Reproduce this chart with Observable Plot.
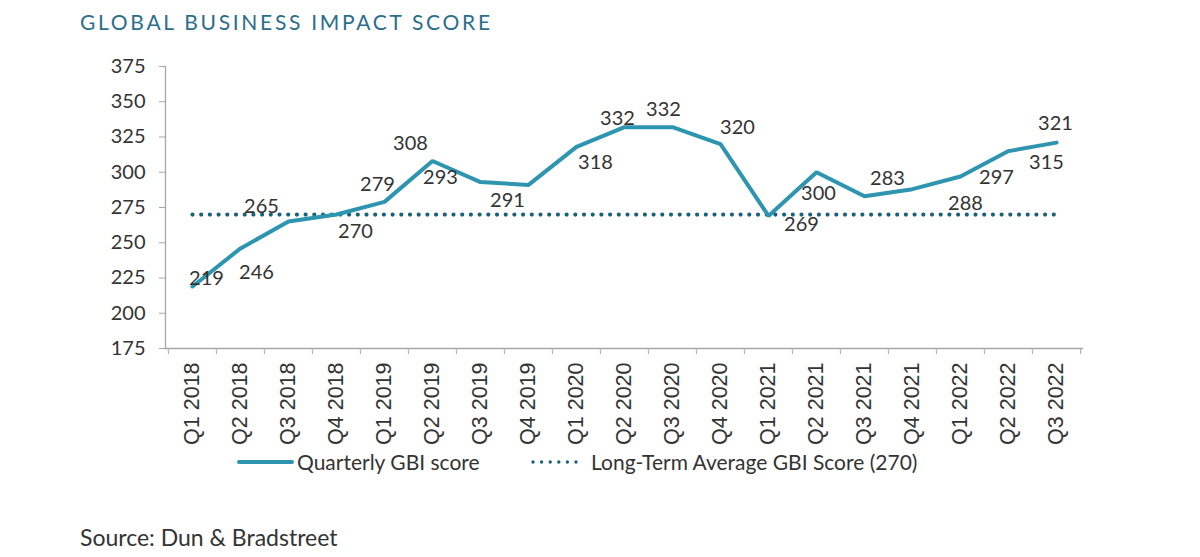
<!DOCTYPE html>
<html>
<head>
<meta charset="utf-8">
<script src="https://cdn.jsdelivr.net/npm/d3@7"></script>
<script src="https://cdn.jsdelivr.net/npm/@observablehq/plot@0.6"></script>
<style>
  html, body { margin: 0; padding: 0; background: #fff; }
  body { width: 1200px; height: 557px; position: relative; overflow: hidden; font-family: Lato, "Noto Sans", sans-serif; }
  #title { position: absolute; left: 80px; top: 9px; font-size: 21px; letter-spacing: 2.7px; color: #2a6e8c; line-height: 26px; white-space: nowrap; }
  #chart { position: absolute; left: 0; top: 40px; }
  #legend { position: absolute; left: 0; top: 449px; height: 26px; width: 1200px; font-size: 21px; color: #333; }
  .item { position: absolute; top: 0; height: 26px; line-height: 26px; white-space: nowrap; }
  .swatch { position: absolute; top: 13px; }
  #source { position: absolute; left: 80px; top: 523px; font-size: 23px; color: #333; line-height: 28px; white-space: nowrap; }
</style>
</head>
<body>
<div id="title">GLOBAL BUSINESS IMPACT SCORE</div>
<div id="chart"></div>
<div id="legend"></div>
<div id="source">Source: Dun &amp; Bradstreet</div>
<script>
// ---- data ----
const quarters = ["Q1 2018","Q2 2018","Q3 2018","Q4 2018","Q1 2019","Q2 2019","Q3 2019","Q4 2019",
  "Q1 2020","Q2 2020","Q3 2020","Q4 2020","Q1 2021","Q2 2021","Q3 2021","Q4 2021","Q1 2022","Q2 2022","Q3 2022"];
const gbiScores = [219,246,265,270,279,308,293,291,318,332,332,320,269,300,283,288,297,315,321];
const longTermAverage = 270;
const yTicks = [175,200,225,250,275,300,325,350,375];
const seriesNames = ["Quarterly GBI score", "Long-Term Average GBI Score (270)"];

// ---- label layout (pixel offsets of each data label from its point) ----
const labelOffsets = [[14,-8],[16,24],[-27,-15],[19,17],[-7,-17],[-22,-17],[-40,-5],[-21,16],[19,16],
  [-7,-9],[-9,-18],[17,-16],[33,9],[2,21],[23,-18],[53,14],[36,1],[38,11],[-1,-19]];

const lineColor = "#2d95b0";
const avgColor = "#17617d";

const W = 1200, H = 410, mL = 165, mR = 118, mT = 26, mB = 102;
const step = (W - mL - mR) / quarters.length;

const rows = quarters.map((q, i) => ({q, v: gbiScores[i], i}));
const avgRows = quarters.map(q => ({q, v: longTermAverage}));

const labelMarks = rows.map((r, i) => Plot.text([r], {
  x: "q", y: "v", text: d => String(d.v),
  dx: labelOffsets[i][0], dy: labelOffsets[i][1],
  fontSize: 20, fill: "#333", fontFamily: "Lato, sans-serif"
}));

const chart = Plot.plot({
  width: W, height: H,
  marginLeft: mL, marginRight: mR, marginTop: mT, marginBottom: mB,
  style: {fontFamily: "Lato, sans-serif", background: "white"},
  x: {type: "point", domain: quarters, padding: 0.5, axis: null},
  y: {domain: [175, 375], axis: null},
  marks: [
    Plot.frame({anchor: "left", stroke: "#a6a6a6", strokeWidth: 1.3}),
    Plot.frame({anchor: "bottom", stroke: "#a6a6a6", strokeWidth: 1.3}),
    Plot.axisY({ticks: yTicks, tickSize: 6, tickPadding: 14, fontSize: 20, stroke: "#a6a6a6", color: "#333", label: null, tickFormat: d => String(d)}),
    // tick marks between categories
    Plot.axisX({ticks: quarters, tickSize: 6, dx: -step / 2, tickFormat: () => "", stroke: "#a6a6a6", label: null}),
    Plot.axisX({ticks: [quarters[quarters.length - 1]], tickSize: 6, dx: step / 2, tickFormat: () => "", stroke: "#a6a6a6", label: null}),
    // rotated category labels
    Plot.axisX({ticks: quarters, tickSize: 0, tickPadding: 14, tickRotate: -90, fontSize: 21.5,
      fontFamily: "'Liberation Sans', Arial, sans-serif", color: "#333", label: null}),
    Plot.lineY(avgRows, {x: "q", y: "v", stroke: avgColor, strokeWidth: 4.2, strokeDasharray: "0 8.7", strokeLinecap: "round"}),
    Plot.lineY(rows, {x: "q", y: "v", stroke: lineColor, strokeWidth: 4, strokeLinejoin: "miter"}),
    ...labelMarks
  ]
});
document.getElementById("chart").appendChild(chart);

// ---- legend ----
const legend = document.getElementById("legend");
legend.innerHTML = `
  <svg class="swatch" style="left:237px;top:9px" width="58" height="8"><line x1="2" y1="4" x2="55" y2="4" stroke="${lineColor}" stroke-width="4" stroke-linecap="round"/></svg>
  <div class="item" style="left:297px">${seriesNames[0]}</div>
  <svg class="swatch" style="left:530px;top:9px" width="56" height="8"><line x1="3" y1="4" x2="52" y2="4" stroke="${avgColor}" stroke-width="3.4" stroke-dasharray="0 8.6" stroke-linecap="round"/></svg>
  <div class="item" style="left:591px">${seriesNames[1]}</div>`;
</script>
</body>
</html>
